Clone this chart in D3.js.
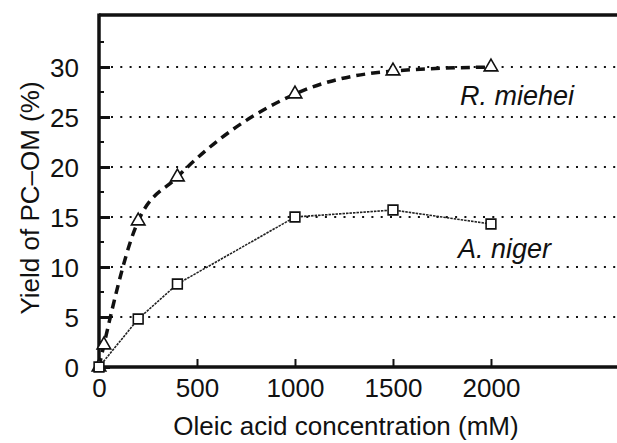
<!DOCTYPE html>
<html>
<head>
<meta charset="utf-8">
<script src="https://cdn.jsdelivr.net/npm/d3@7"></script>
<style>
  html, body { margin: 0; padding: 0; background: #fff; }
  svg { display: block; }
  text { font-family: "Liberation Sans", Arial, Helvetica, sans-serif; fill: #111; }
</style>
</head>
<body>
<svg id="chart" width="617" height="443"></svg>
<script>
// ---- data ----
const mieheiX = [0, 25, 200, 400, 1000, 1500, 2000];
const mieheiY = [0, 2.2, 14.6, 19.0, 27.3, 29.6, 30.0];
const nigerX = [0, 200, 400, 1000, 1500, 2000];
const nigerY = [0, 4.8, 8.3, 15.0, 15.7, 14.3];
const xTicks = [0, 500, 1000, 1500, 2000];
const yTicks = [0, 5, 10, 15, 20, 25, 30];
const yMinorTicks = [2.5, 7.5, 12.5, 17.5, 22.5, 27.5, 32.5];
const gridValues = [5, 10, 15, 20, 25, 30];
const seriesLabels = ["R. miehei", "A. niger"];
const xTitle = "Oleic acid concentration (mM)";
const yTitle = "Yield of PC\u2013OM (%)";

// ---- layout ----
const W = 617, H = 443;
const mLeft = 99, mTop = 15, mBottom = 367, mRight = 617;
const x = d3.scaleLinear().domain([0, 2643]).range([mLeft, mRight]);
const y = d3.scaleLinear().domain([0, 35.2]).range([mBottom, mTop]);

const svg = d3.select("#chart");

// grid (dotted)
svg.append("g").selectAll("line").data(gridValues).join("line")
  .attr("x1", mLeft + 12).attr("x2", mRight)
  .attr("y1", d => y(d)).attr("y2", d => y(d))
  .attr("stroke", "#111").attr("stroke-width", 2)
  .attr("stroke-dasharray", "2,7.3");

// y axis
const yAxis = d3.axisLeft(y).tickValues(yTicks).tickSize(-11).tickPadding(20).tickFormat(d3.format("d"));
const gy = svg.append("g").attr("transform", `translate(${mLeft},0)`).call(yAxis);
gy.select(".domain").remove();
gy.selectAll(".tick line").attr("stroke", "#111").attr("stroke-width", 3);
gy.selectAll(".tick text").attr("font-size", 26).attr("fill", "#111")
  .attr("font-family", "Liberation Sans, Arial, sans-serif").attr("dy", "0.36em");

// minor y ticks
svg.append("g").selectAll("line").data(yMinorTicks).join("line")
  .attr("x1", mLeft).attr("x2", mLeft + 5)
  .attr("y1", d => y(d)).attr("y2", d => y(d))
  .attr("stroke", "#111").attr("stroke-width", 2);

// x axis
const xAxis = d3.axisBottom(x).tickValues(xTicks).tickSize(-8).tickPadding(12).tickFormat(d3.format("d"));
const gx = svg.append("g").attr("transform", `translate(0,${mBottom})`).call(xAxis);
gx.select(".domain").remove();
gx.selectAll(".tick line").attr("stroke", "#111").attr("stroke-width", 2);
gx.selectAll(".tick text").attr("font-size", 26).attr("fill", "#111")
  .attr("font-family", "Liberation Sans, Arial, sans-serif").attr("dy", "0.71em");

// frame lines
svg.append("line").attr("x1", mLeft).attr("x2", mLeft).attr("y1", mTop - 1.5).attr("y2", mBottom + 1.5)
  .attr("stroke", "#111").attr("stroke-width", 3.5);
svg.append("line").attr("x1", mLeft).attr("x2", mRight).attr("y1", mTop).attr("y2", mTop)
  .attr("stroke", "#111").attr("stroke-width", 3.5);
svg.append("line").attr("x1", mLeft).attr("x2", mRight).attr("y1", mBottom).attr("y2", mBottom)
  .attr("stroke", "#111").attr("stroke-width", 3.5);

// series
const miehei = mieheiX.map((v, i) => [v, mieheiY[i]]);
const niger = nigerX.map((v, i) => [v, nigerY[i]]);
const lineSmooth = d3.line().x(d => x(d[0])).y(d => y(d[1])).curve(d3.curveMonotoneX);
const lineStraight = d3.line().x(d => x(d[0])).y(d => y(d[1])).curve(d3.curveLinear);

svg.append("path").datum(niger).attr("d", lineStraight)
  .attr("fill", "none").attr("stroke", "#222").attr("stroke-width", 1.6)
  .attr("stroke-dasharray", "2.5,1");
svg.append("path").datum(miehei).attr("d", lineSmooth)
  .attr("fill", "none").attr("stroke", "#111").attr("stroke-width", 3.5)
  .attr("stroke-dasharray", "9,6");

// markers
const tri = d3.symbol().type(d3.symbolTriangle).size(80);
const sq = d3.symbol().type(d3.symbolSquare).size(95);
svg.append("g").selectAll("path").data(miehei).join("path")
  .attr("d", tri).attr("transform", d => `translate(${x(d[0])},${y(d[1])})`)
  .attr("fill", "#fff").attr("stroke", "#111").attr("stroke-width", 1.6);
svg.append("g").selectAll("path").data(niger).join("path")
  .attr("d", sq).attr("transform", d => `translate(${x(d[0])},${y(d[1])})`)
  .attr("fill", "#fff").attr("stroke", "#111").attr("stroke-width", 1.6);

// series labels
svg.append("text").attr("x", 460).attr("y", 105).attr("font-size", 27)
  .attr("font-style", "italic").text(seriesLabels[0]);
svg.append("text").attr("x", 458).attr("y", 258).attr("font-size", 27)
  .attr("font-style", "italic").text(seriesLabels[1]);

// axis titles
svg.append("text").attr("x", 346).attr("y", 435).attr("text-anchor", "middle")
  .attr("font-size", 26).text(xTitle);
svg.append("text").attr("transform", "translate(39,198) rotate(-90)")
  .attr("text-anchor", "middle").attr("font-size", 26).text(yTitle);
</script>
</body>
</html>
